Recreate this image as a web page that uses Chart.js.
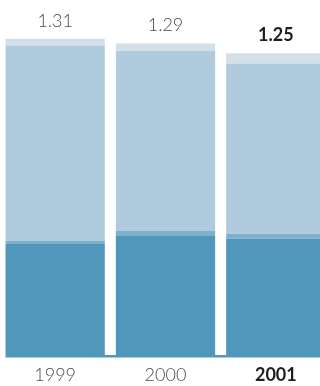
<!DOCTYPE html>
<html>
<head>
<meta charset="utf-8">
<script src="https://cdn.jsdelivr.net/npm/chart.js@4/dist/chart.umd.min.js"></script>
<style>
  html, body { margin: 0; padding: 0; background: #fff; overflow: hidden; }
  #wrap { width: 320px; height: 386px; overflow: hidden; position: relative; }
  canvas { position: absolute; left: 0; top: 0; }
</style>
</head>
<body>
<div id="wrap"><canvas id="chart" width="331" height="386"></canvas></div>
<script>
// years and per-segment values, bottom to top
const years = ["1999", "2000", "2001"];
const totals = [1.31, 1.29, 1.25];
const baseSeg = [0.46, 0.493, 0.481];
const midSeg = [0.012, 0.021, 0.021];
const upperSeg = [0.81, 0.746, 0.705];
const topSeg = [0.028, 0.03, 0.043];

const darkBlue = "#5097bb";
const fontFamily = "Lato, 'Open Sans', sans-serif";

const totalsPlugin = {
    id: "totals",
    afterDatasetsDraw(chart) {
        const ctx = chart.ctx;
        const meta = chart.getDatasetMeta(3);
        ctx.save();
        ctx.textAlign = "center";
        ctx.textBaseline = "alphabetic";
        meta.data.forEach(function (bar, i) {
            const last = i === years.length - 1;
            ctx.font = (last ? "bold " : "300 ") + "18px " + fontFamily;
            ctx.fillStyle = last ? "#1e1e1e" : "#4a4a4a";
            const y = chart.scales.y.getPixelForValue(totals[i]);
            ctx.fillText(totals[i].toFixed(2), bar.x, y - 12);
        });
        // baseline band under the bars
        const first = chart.getDatasetMeta(0).data[0];
        const left = first.x - first.width / 2;
        const bottom = chart.chartArea.bottom;
        ctx.fillStyle = darkBlue;
        ctx.fillRect(left, bottom, chart.width - left, 2);
        ctx.fillStyle = "#a9cde0";
        ctx.fillRect(left, bottom + 2, chart.width - left, 1);
        ctx.restore();
    }
};

function segment(values, color) {
    return {
        data: values,
        backgroundColor: color,
        borderWidth: 0,
        categoryPercentage: 1,
        barPercentage: 0.9
    };
}

new Chart(document.getElementById("chart"), {
    type: "bar",
    data: {
        labels: years,
        datasets: [
            segment(baseSeg, darkBlue),
            segment(midSeg, "#7fb0cb"),
            segment(upperSeg, "#afcbdd"),
            segment(topSeg, "#d3e0ea")
        ]
    },
    options: {
        responsive: false,
        animation: false,
        layout: { padding: 0 },
        plugins: {
            legend: { display: false },
            tooltip: { enabled: false }
        },
        scales: {
            x: {
                stacked: true,
                grid: { display: false, drawTicks: false },
                border: { display: false },
                afterFit: function (scale) { scale.height = 31; },
                ticks: {
                    padding: 9,
                    maxRotation: 0,
                    color: function (c) { return c.index === 2 ? "#1e1e1e" : "#4a4a4a"; },
                    font: function (c) {
                        return { family: fontFamily, size: 18, weight: c.index === 2 ? "bold" : "300" };
                    }
                }
            },
            y: {
                stacked: true,
                display: false,
                min: 0,
                max: 1.47
            }
        }
    },
    plugins: [totalsPlugin]
});
</script>
</body>
</html>
